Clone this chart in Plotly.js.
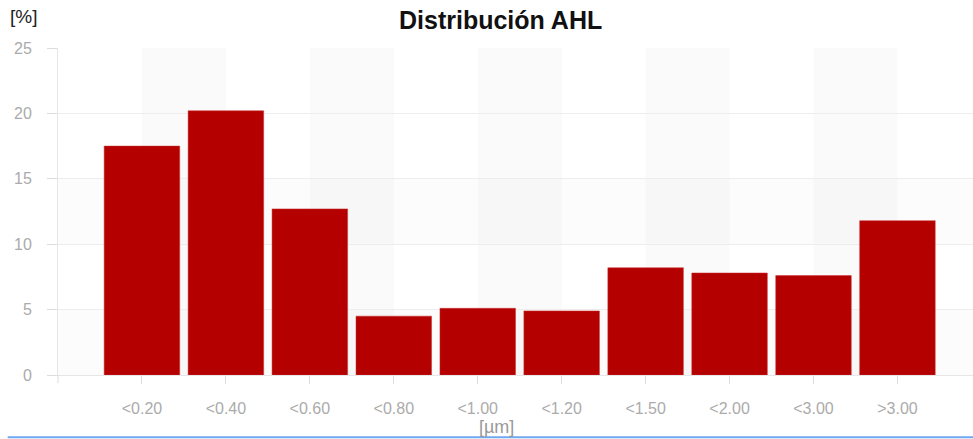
<!DOCTYPE html>
<html>
<head>
<meta charset="utf-8">
<script src="https://cdn.plot.ly/plotly-3.0.1.min.js"></script>
<style>html,body{margin:0;padding:0;background:#fff;}#chart{width:973px;height:439px;}</style>
</head>
<body>
<div id="chart"></div>
<script>
var categories = ['<0.20','<0.40','<0.60','<0.80','<1.00','<1.20','<1.50','<2.00','<3.00','>3.00'];
var values = [17.5, 20.2, 12.7, 4.5, 5.1, 4.9, 8.2, 7.8, 7.6, 11.8];
var yTicks = [0, 5, 10, 15, 20, 25];

var shapes = [];
// vertical alternating bands between category centers
for (var i = 0; i < categories.length - 1; i += 2) {
  shapes.push({type:'rect', xref:'x', yref:'paper', x0:i, x1:i+1, y0:0, y1:1,
    fillcolor:'#fafafa', line:{width:0}, layer:'below'});
}
// horizontal faint bands
[[0,5],[10,15]].forEach(function(b){
  shapes.push({type:'rect', xref:'paper', yref:'y', x0:0, x1:1, y0:b[0], y1:b[1],
    fillcolor:'rgba(0,0,0,0.012)', line:{width:0}, layer:'below'});
});
// left tick on x axis
shapes.push({type:'line', xref:'paper', yref:'paper', x0:0, x1:0, y0:0, y1:-0.025,
  line:{color:'#dcdcdc', width:1}});
// bottom blue line
shapes.push({type:'line', xref:'paper', yref:'paper', x0:-0.055, x1:1.01, y0:-0.19, y1:-0.19,
  line:{color:'#6ea8f0', width:2}});

var trace = {
  type:'bar', x:categories, y:values,
  marker:{color:'#b50000', line:{color:'#c83030', width:0.5}},
  hoverinfo:'none'
};

var layout = {
  width:973, height:439,
  margin:{l:58, r:0, t:48, b:64},
  paper_bgcolor:'#ffffff', plot_bgcolor:'#ffffff',
  bargap:0.1,
  showlegend:false,
  font:{family:'Liberation Sans, Arial, sans-serif'},
  xaxis:{
    type:'category', categoryorder:'array', categoryarray:categories,
    range:[-1, 9.9], showgrid:false, zeroline:false,
    ticks:'outside', ticklen:8, tickcolor:'#dcdcdc',
    showline:true, linecolor:'#e6e6e6',
    tickfont:{size:16, color:'#ababab'}, ticklabelstandoff:11
  },
  yaxis:{
    range:[0,25], tickvals:yTicks, showgrid:true, gridcolor:'#ededed',
    zeroline:false, ticks:'outside', ticklen:10, tickcolor:'#dcdcdc',
    showline:true, linecolor:'#e6e6e6',
    tickfont:{size:16, color:'#ababab'}, ticklabelstandoff:12
  },
  shapes:shapes,
  annotations:[
    {text:'<b>Distribución AHL</b>', xref:'paper', yref:'paper', x:(500-58)/915, y:(375-20)/327,
     xanchor:'center', yanchor:'middle', showarrow:false, font:{size:25, color:'#111'}},
    {text:'[%]', xref:'paper', yref:'paper', x:(8-58)/915, y:(375-17)/327,
     xanchor:'left', yanchor:'middle', showarrow:false, font:{size:19, color:'#222'}},
    {text:'[µm]', xref:'paper', yref:'paper', x:(496-58)/915, y:(375-427)/327,
     xanchor:'center', yanchor:'middle', showarrow:false, font:{size:18, color:'#999'}}
  ]
};

Plotly.newPlot('chart', [trace], layout, {displayModeBar:false, staticPlot:true});
</script>
</body>
</html>
